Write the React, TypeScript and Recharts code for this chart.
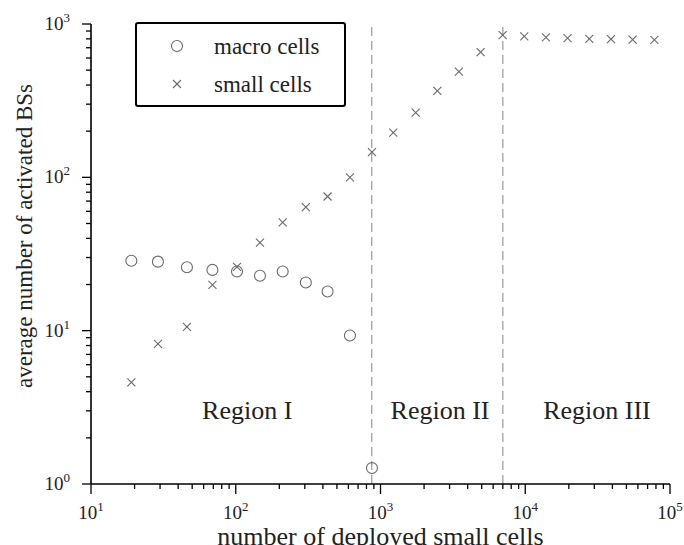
import React from 'react';
import {
    ComposedChart,
    Scatter,
    XAxis,
    YAxis,
    ReferenceLine,
    ReferenceDot,
    Legend,
    Label
} from 'recharts';

// deployed small cells (x) and the two measured series
const deployed = [19, 29, 46, 69, 102, 147, 211, 305, 431, 615, 873, 1225, 1750, 2470, 3480, 4920, 6980, 9840, 13900, 19600, 27700, 39100, 55200, 78000];
const macroCells = [28.6, 28.2, 25.9, 24.9, 24.3, 22.8, 24.3, 20.6, 18.0, 9.3, 1.27];
const smallCells = [4.6, 8.2, 10.6, 19.9, 26.1, 37.5, 50.9, 64, 75, 100, 146, 196, 264, 366, 489, 655, 845, 830, 818, 808, 801, 796, 792, 788];

// region boundaries and labels
const regionBounds = [870, 7000];
const regionNames = ['Region I', 'Region II', 'Region III'];
const regionLabelX = [120, 2580, 31300];
const regionLabelY = 3.04;

const xTicks = [1, 2, 3, 4].flatMap((e) => [1, 2, 3, 4, 5, 6, 7, 8, 9].map((m) => m * Math.pow(10, e))).concat([100000]);
const yTicks = [0, 1, 2].flatMap((e) => [1, 2, 3, 4, 5, 6, 7, 8, 9].map((m) => m * Math.pow(10, e))).concat([1000]);

const macroData = macroCells.map((v, i) => ({ x: deployed[i], y: v }));
const smallData = smallCells.map((v, i) => ({ x: deployed[i], y: v }));

const FONT = 'Liberation Serif, DejaVu Serif, serif';
const MARK = '#6a6a6a';
const TXT = '#222';

const exponentOf = (v: number) => {
    const l = Math.log10(v);
    const e = Math.round(l);
    return Math.abs(l - e) < 1e-6 ? e : null;
};

const XTick = (props: any) => {
    const { x, y, payload } = props;
    const e = exponentOf(payload.value);
    return (
        <g>
            <line x1={x} x2={x} y1={y} y2={y + (e !== null ? 10 : 5)} stroke="#000" strokeWidth={1.3} />
            {e !== null && (
                <text x={x} y={y + 35} textAnchor="middle" style={{ fontFamily: FONT, fontSize: 19 }} fill={TXT}>
                    <tspan>10</tspan>
                    <tspan dy={-8} style={{ fontSize: 13 }}>{e}</tspan>
                </text>
            )}
        </g>
    );
};

const YTick = (props: any) => {
    const { x, y, payload } = props;
    const e = exponentOf(payload.value);
    return (
        <g>
            <line x1={x} x2={x - (e !== null ? 9 : 5)} y1={y} y2={y} stroke="#000" strokeWidth={1.3} />
            {e !== null && (
                <text x={x - 21} y={y + 6} textAnchor="end" style={{ fontFamily: FONT, fontSize: 19 }} fill={TXT}>
                    <tspan>10</tspan>
                    <tspan dy={-8} style={{ fontSize: 13 }}>{e}</tspan>
                </text>
            )}
        </g>
    );
};

const Circle = (props: any) => (
    <circle cx={props.cx} cy={props.cy} r={5.5} fill="none" stroke={MARK} strokeWidth={1.1} />
);

const Cross = (props: any) => {
    const { cx, cy } = props;
    const s = 4;
    return (
        <g stroke={MARK} strokeWidth={1.1}>
            <line x1={cx - s} y1={cy - s} x2={cx + s} y2={cy + s} />
            <line x1={cx - s} y1={cy + s} x2={cx + s} y2={cy - s} />
        </g>
    );
};

const renderLegend = () => (
    <div style={{ width: 211, height: 85, border: '2px solid #000', borderRadius: 3, boxSizing: 'border-box', background: '#fff' }}>
        <svg width={207} height={81}>
            <circle cx={40} cy={22} r={5.5} fill="none" stroke={MARK} strokeWidth={1.1} />
            <text x={77} y={30} style={{ fontFamily: FONT, fontSize: 23 }} fill={TXT}>macro cells</text>
            <g stroke={MARK} strokeWidth={1.1}>
                <line x1={36} y1={56} x2={44} y2={64} />
                <line x1={36} y1={64} x2={44} y2={56} />
            </g>
            <text x={77} y={68} style={{ fontFamily: FONT, fontSize: 23 }} fill={TXT}>small cells</text>
        </svg>
    </div>
);

export default function App() {
    return (
        <div style={{ position: 'absolute', left: 0, top: 0, width: 684, height: 545, background: '#fff', fontFamily: FONT }}>
            <ComposedChart width={684} height={545} margin={{ top: 24, right: 14, bottom: 0, left: 0 }} style={{ fontFamily: FONT }}>
                <XAxis
                    dataKey="x"
                    type="number"
                    scale="log"
                    domain={[10, 100000]}
                    ticks={xTicks}
                    interval={0}
                    allowDataOverflow
                    height={61}
                    tickSize={0}
                    tickMargin={0}
                    tick={<XTick />}
                    axisLine={{ stroke: '#000', strokeWidth: 1.6 }}
                >
                    <Label
                        content={(p: any) => (
                            <text x={p.viewBox.x + p.viewBox.width / 2} y={p.viewBox.y + 61} textAnchor="middle" style={{ fontFamily: FONT, fontSize: 26 }} fill={TXT}>
                                number of deployed small cells
                            </text>
                        )}
                    />
                </XAxis>
                <YAxis
                    dataKey="y"
                    type="number"
                    scale="log"
                    domain={[1, 1000]}
                    ticks={yTicks}
                    interval={0}
                    allowDataOverflow
                    width={91}
                    tickSize={0}
                    tickMargin={0}
                    tick={<YTick />}
                    axisLine={{ stroke: '#000', strokeWidth: 1.6 }}
                >
                    <Label
                        content={(p: any) => {
                            const cy = p.viewBox.y + p.viewBox.height / 2 - 18;
                            return (
                                <text x={32} y={cy} transform={`rotate(-90, 32, ${cy})`} textAnchor="middle" style={{ fontFamily: FONT, fontSize: 23 }} fill={TXT}>
                                    average number of activated BSs
                                </text>
                            );
                        }}
                    />
                </YAxis>
                {regionBounds.map((b) => (
                    <ReferenceLine key={b} x={b} stroke="#999" strokeWidth={1.2} strokeDasharray="9 5" ifOverflow="extendDomain" />
                ))}
                {regionNames.map((name, i) => (
                    <ReferenceDot
                        key={name}
                        x={regionLabelX[i]}
                        y={regionLabelY}
                        r={0}
                        fill="none"
                        stroke="none"
                        label={{ value: name, position: 'center', style: { fontFamily: FONT, fontSize: 26 }, fill: TXT }}
                    />
                ))}
                <Scatter name="macro cells" data={macroData} shape={<Circle />} isAnimationActive={false} />
                <Scatter name="small cells" data={smallData} shape={<Cross />} isAnimationActive={false} />
                <Legend
                    layout="vertical"
                    verticalAlign="middle"
                    align="center"
                    content={renderLegend}
                    wrapperStyle={{ left: 135, top: 22, width: 211, height: 85 }}
                />
            </ComposedChart>
        </div>
    );
}
